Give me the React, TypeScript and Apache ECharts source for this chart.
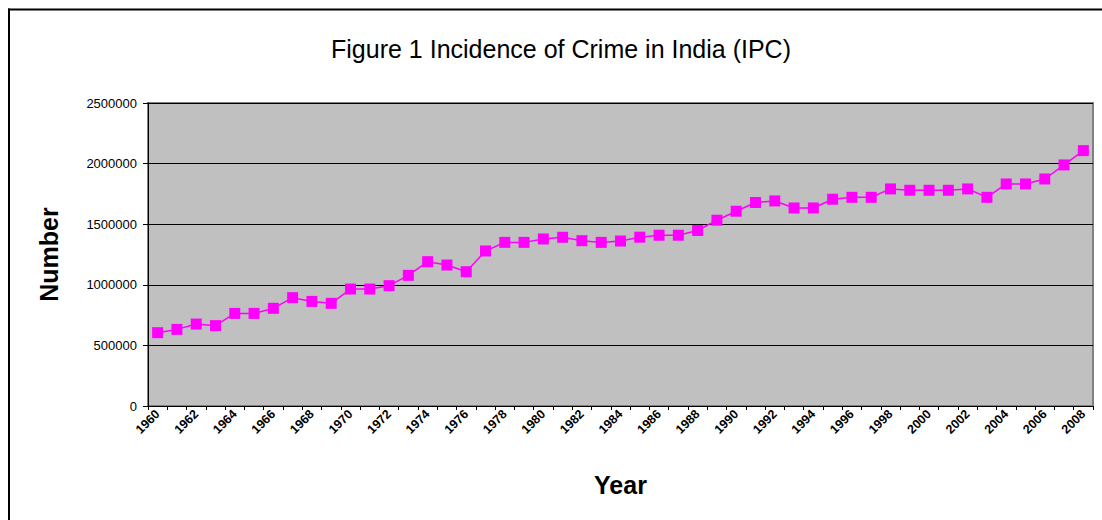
import React, { useEffect, useRef } from "react";
import * as echarts from "echarts";

const years: string[] = [
  "1960", "1961", "1962", "1963", "1964", "1965", "1966", "1967", "1968", "1969",
  "1970", "1971", "1972", "1973", "1974", "1975", "1976", "1977", "1978", "1979",
  "1980", "1981", "1982", "1983", "1984", "1985", "1986", "1987", "1988", "1989",
  "1990", "1991", "1992", "1993", "1994", "1995", "1996", "1997", "1998", "1999",
  "2000", "2001", "2002", "2003", "2004", "2005", "2006", "2007", "2008",
];

const crimes: number[] = [
  605000, 632000, 676000, 663000, 764000, 764000, 806000, 894000, 863000, 847000,
  965000, 965000, 993000, 1078000, 1191000, 1163000, 1108000, 1279000, 1350000, 1350000,
  1378000, 1392000, 1364000, 1350000, 1361000, 1393000, 1409000, 1409000, 1448000, 1533000,
  1607000, 1679000, 1692000, 1634000, 1634000, 1706000, 1722000, 1722000, 1791000, 1780000,
  1780000, 1780000, 1791000, 1722000, 1832000, 1832000, 1873000, 1989000, 2107000,
];

const yTicks = { min: 0, max: 2500000, interval: 500000 };

const titleText = "Figure 1 Incidence of Crime in India (IPC)";
const xName = "Year";
const yName = "Number";

export default function App() {
  const ref = useRef<HTMLDivElement>(null);

  useEffect(() => {
    if (!ref.current) return;
    const chart = echarts.init(ref.current, null, { renderer: "svg" });
    const font = "Arial, 'Liberation Sans', sans-serif";
    chart.setOption({
      animation: false,
      backgroundColor: "#ffffff",
      textStyle: { fontFamily: font },
      title: {
        text: titleText,
        left: 556,
        top: 31,
        textAlign: "center",
        textStyle: { fontSize: 25, fontWeight: "normal", color: "#000", fontFamily: font },
      },
      graphic: [
        {
          type: "line",
          shape: { x1: 8, y1: 9.5, x2: 1102, y2: 9.5 },
          style: { stroke: "#000", lineWidth: 2 },
          silent: true,
          z: 100,
        },
        {
          type: "line",
          shape: { x1: 9, y1: 8.5, x2: 9, y2: 520 },
          style: { stroke: "#000", lineWidth: 2 },
          silent: true,
          z: 100,
        },
      ],
      grid: {
        left: 148,
        top: 103,
        right: 9,
        bottom: 114,
        show: true,
        backgroundColor: "#C0C0C0",
        borderColor: "#808080",
        borderWidth: 2,
      },
      xAxis: {
        type: "category",
        data: years,
        boundaryGap: true,
        name: xName,
        nameLocation: "middle",
        nameGap: 66,
        nameTextStyle: { fontSize: 25, fontWeight: "bold", color: "#000", fontFamily: font },
        axisLine: { show: true, lineStyle: { color: "#000", width: 1 } },
        axisTick: { show: true, interval: 0, length: 4, lineStyle: { color: "#000" } },
        axisLabel: {
          interval: 1,
          rotate: 45,
          fontSize: 12.5,
          fontWeight: "bold",
          color: "#000",
          margin: 6,
          fontFamily: font,
        },
        splitLine: { show: false },
      },
      yAxis: {
        type: "value",
        min: yTicks.min,
        max: yTicks.max,
        interval: yTicks.interval,
        name: yName,
        nameLocation: "middle",
        nameGap: 87,
        nameRotate: 90,
        nameTextStyle: { fontSize: 25, fontWeight: "bold", color: "#000", fontFamily: font },
        axisLine: { show: true, lineStyle: { color: "#000", width: 1 } },
        axisTick: { show: true, length: 5, inside: false, lineStyle: { color: "#000" } },
        axisLabel: {
          fontSize: 13,
          color: "#000",
          margin: 11,
          fontFamily: font,
          formatter: (v: number) => String(v),
        },
        splitLine: { show: true, lineStyle: { color: "#000", width: 1 } },
      },
      series: [
        {
          type: "line",
          data: crimes,
          symbol: "rect",
          symbolSize: 11,
          lineStyle: { color: "#FF00FF", width: 1.5 },
          itemStyle: { color: "#FF00FF" },
        },
      ],
    });
    return () => chart.dispose();
  }, []);

  return (
    <div
      ref={ref}
      style={{ position: "fixed", left: 0, top: 0, width: 1102, height: 520 }}
    />
  );
}
